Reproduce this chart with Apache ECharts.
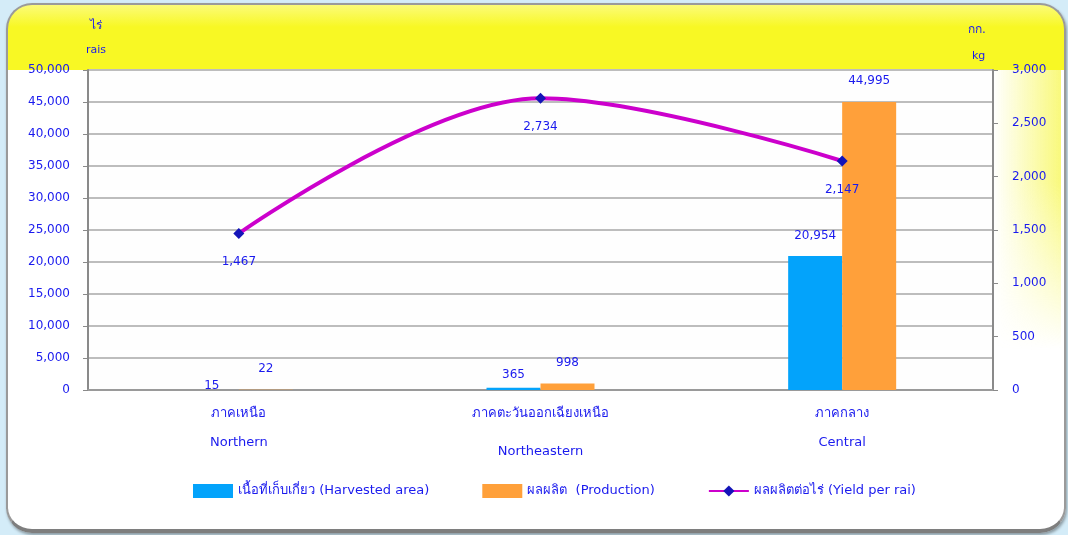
<!DOCTYPE html>
<html>
<head>
<meta charset="utf-8">
<script src="https://cdn.jsdelivr.net/npm/echarts@6/dist/echarts.min.js"></script>
<style>
  html, body { margin: 0; padding: 0; }
  body { width: 1068px; height: 535px; background: #d4ecf8; position: relative; overflow: hidden; }
  #frame { position: absolute; left: 6px; top: 3px; width: 1056px; height: 524px; border: 2px solid #9a9a9a; border-bottom: 4px solid #7e7e7e; border-radius: 26px;
    background: linear-gradient(to bottom, #fbfb78 0px, #f8f824 22px, #f8f824 65px, #ffffff 65px, #ffffff 100%); box-shadow: 1px 2px 3px rgba(0,0,0,0.35); }
  #glow { position: absolute; left: 993px; top: 70px; width: 68px; height: 280px;
    background: linear-gradient(to right, rgba(255,255,255,0), rgba(248,248,110,0.9));
    -webkit-mask-image: linear-gradient(to bottom, #000 0%, #000 40%, transparent 100%); mask-image: linear-gradient(to bottom, #000 0%, #000 40%, transparent 100%); }
  #chart { position: absolute; left: 0; top: 0; width: 1068px; height: 535px; }
</style>
</head>
<body>
<div id="frame"></div>
<div id="glow"></div>
<div id="chart"></div>
<script>
const categoriesThai = ['ภาคเหนือ', 'ภาคตะวันออกเฉียงเหนือ', 'ภาคกลาง'];
const categoriesEng = ['Northern', 'Northeastern', 'Central'];
const harvestedArea = [15, 365, 20954];
const production = [22, 998, 44995];
const yieldPerRai = [1467, 2734, 2147];
const seriesNames = ['เนื้อที่เก็บเกี่ยว (Harvested area)', 'ผลผลิต  (Production)', 'ผลผลิตต่อไร่ (Yield per rai)'];
const leftAxisMax = 50000, leftAxisStep = 5000;
const rightAxisMax = 3000, rightAxisStep = 500;
const harvestedLabelGap = [-2, 7, 14];

const FONT = '"DejaVu Sans", "Noto Sans", sans-serif';
const BLUE_TEXT = '#1a1aee';

const chart = echarts.init(document.getElementById('chart'), null, { renderer: 'canvas' });
const fmt = v => Number(v).toLocaleString('en-US');

const option = {
  backgroundColor: 'transparent',
  textStyle: { fontFamily: FONT },
  grid: { left: 88, right: 75, top: 70, bottom: 145, show: true, backgroundColor: '#fefefe', borderWidth: 0 },
  legend: {
    left: 188, top: 479, itemWidth: 40, itemHeight: 14, itemGap: 53, padding: 5,
    textStyle: { color: BLUE_TEXT, fontSize: 13, fontFamily: FONT },
    data: [
      { name: seriesNames[0], icon: 'rect' },
      { name: seriesNames[1], icon: 'rect' },
      { name: seriesNames[2] }
    ]
  },
  xAxis: {
    type: 'category',
    data: categoriesThai.map((t, i) => t + '\n' + categoriesEng[i]),
    axisLine: { lineStyle: { color: '#9a9a9a', width: 2 } },
    axisTick: { show: false },
    axisLabel: {
      margin: 9,
      formatter: (v, i) => {
        const parts = v.split('\n');
        return '{a|' + parts[0] + '}\n{' + (i === 1 ? 'c' : 'b') + '|' + parts[1] + '}';
      },
      rich: {
        a: { color: BLUE_TEXT, fontSize: 13, lineHeight: 29, fontFamily: FONT },
        b: { color: BLUE_TEXT, fontSize: 13, lineHeight: 29, fontFamily: FONT },
        c: { color: BLUE_TEXT, fontSize: 13, lineHeight: 47, fontFamily: FONT }
      }
    }
  },
  yAxis: [
    {
      type: 'value', min: 0, max: leftAxisMax, interval: leftAxisStep,
      axisLine: { show: true, lineStyle: { color: '#8a8a8a', width: 2 } },
      axisTick: { show: true, length: 5, lineStyle: { color: '#8a8a8a' } },
      axisLabel: { color: BLUE_TEXT, fontSize: 12, margin: 18, formatter: fmt, fontFamily: FONT },
      splitLine: { lineStyle: { color: '#bdbdbd', width: 2 } }
    },
    {
      type: 'value', min: 0, max: rightAxisMax, interval: rightAxisStep,
      axisLine: { show: true, lineStyle: { color: '#8a8a8a', width: 2 } },
      axisTick: { show: true, length: 5, lineStyle: { color: '#8a8a8a' } },
      axisLabel: { color: BLUE_TEXT, fontSize: 12, margin: 19, formatter: fmt, fontFamily: FONT },
      splitLine: { show: false }
    }
  ],
  series: [
    {
      name: seriesNames[0], type: 'bar', yAxisIndex: 0, barWidth: 54, barGap: '0%',
      itemStyle: { color: '#03a3fb' },
      data: harvestedArea.map((v, i) => ({
        value: v,
        label: { show: true, position: 'top', distance: harvestedLabelGap[i], color: BLUE_TEXT, fontSize: 12, formatter: p => fmt(p.value) }
      }))
    },
    {
      name: seriesNames[1], type: 'bar', yAxisIndex: 0, barWidth: 54, barGap: '0%',
      itemStyle: { color: '#ffa03a' },
      label: { show: true, position: 'top', distance: 15, color: BLUE_TEXT, fontSize: 12, formatter: p => fmt(p.value) },
      data: production
    },
    {
      name: seriesNames[2], type: 'line', yAxisIndex: 1, smooth: 0.35,
      symbol: 'diamond', symbolSize: 11,
      lineStyle: { color: '#cc00cc', width: 4 },
      itemStyle: { color: '#1414b8' },
      label: { show: true, position: 'bottom', distance: 17, color: BLUE_TEXT, fontSize: 12, formatter: p => fmt(p.value) },
      data: yieldPerRai,
      z: 5
    }
  ],
  graphic: [
    { type: 'text', left: 90, top: 20, style: { text: 'ไร่', fill: BLUE_TEXT, font: '12px ' + FONT } },
    { type: 'text', left: 86, top: 45, style: { text: 'rais', fill: BLUE_TEXT, font: '11px ' + FONT } },
    { type: 'text', left: 968, top: 24, style: { text: 'กก.', fill: BLUE_TEXT, font: '12px ' + FONT } },
    { type: 'text', left: 972, top: 51, style: { text: 'kg', fill: BLUE_TEXT, font: '11px ' + FONT } }
  ]
};
chart.setOption(option);
</script>
</body>
</html>
